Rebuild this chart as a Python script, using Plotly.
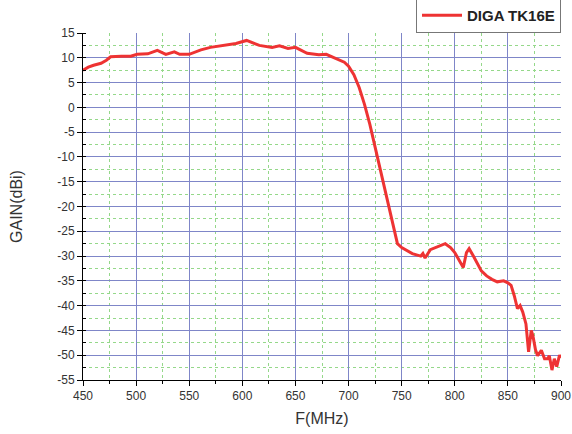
import plotly.graph_objects as go

freq_mhz = [450, 455, 460, 467, 472, 476, 486, 495, 501, 511, 520, 528, 536, 541, 550,
            561, 570, 583, 594, 604, 616, 628, 635, 643, 650, 661, 672, 679, 688, 696,
            700, 705, 710, 715, 720, 725, 730, 735, 740, 746, 750, 760, 768, 770, 772,
            777, 791, 796, 800, 805, 808, 811, 813.5, 817.5, 822, 825, 830, 835, 840,
            846, 850, 853, 856, 859, 861.5, 864, 867, 869.5, 872, 873.5, 876, 878,
            881.5, 884.5, 887.5, 889, 891.5, 893.7, 896, 898.6, 900]
gain_dbi = [7.5, 8.1, 8.5, 8.9, 9.5, 10.2, 10.3, 10.3, 10.7, 10.8, 11.5, 10.7, 11.2, 10.7, 10.7,
            11.6, 12.1, 12.5, 12.9, 13.5, 12.5, 12.1, 12.4, 11.9, 12.1, 10.9, 10.6, 10.7, 9.8, 9.1,
            8.3, 6.6, 4.0, 0.6, -3.4, -8.0, -12.5, -17.0, -21.5, -27.5, -28.3, -29.5, -30.0, -29.5, -30.4,
            -28.7, -27.5, -28.3, -29.3, -31.0, -32.3, -29.3, -28.5, -30.0, -31.7, -33.0, -34.0, -34.7, -35.2,
            -35.0, -35.4, -35.9, -38.0, -40.6, -40.0, -41.3, -43.7, -49.3, -45.0, -46.0, -48.9, -50.1,
            -49.0, -50.7, -50.7, -50.1, -53.0, -50.7, -52.3, -50.0, -50.5]

x_ticks = [450, 500, 550, 600, 650, 700, 750, 800, 850, 900]
y_ticks = [15, 10, 5, 0, -5, -10, -15, -20, -25, -30, -35, -40, -45, -50, -55]
y_tick_text = [str(v) for v in y_ticks]
series_name = "<b>DIGA TK16E</b>"

fig = go.Figure()
fig.add_trace(go.Scatter(x=freq_mhz, y=gain_dbi, mode="lines", name=series_name,
                         line=dict(color="#ee3333", width=3)))

font_family = "Liberation Sans, Arial, sans-serif"
major_grid = "#7f86c8"
minor_grid = "#95d88a"

fig.update_layout(
    width=572, height=434,
    margin=dict(l=83, r=11, t=33, b=54, autoexpand=False),
    paper_bgcolor="white", plot_bgcolor="white",
    font=dict(family=font_family, color="#333333", size=12),
    showlegend=True,
    legend=dict(x=1, y=1.0, xanchor="right", yanchor="bottom",
                bgcolor="white", bordercolor="#777777", borderwidth=1,
                font=dict(size=15, color="#222222",
                          family="Liberation Sans Narrow, Liberation Sans, Arial, sans-serif"),
                itemwidth=40, tracegroupgap=0),
)
fig.update_xaxes(
    range=[450, 900], tickvals=x_ticks,
    showline=True, linecolor="black", linewidth=1,
    ticks="outside", ticklen=5, tickcolor="black",
    showgrid=True, gridcolor=major_grid, gridwidth=1,
    minor=dict(dtick=25, showgrid=True, gridcolor=minor_grid, griddash="dot",
               ticks="outside", ticklen=3, tickcolor="black"),
    zeroline=False,
    title=dict(text="F(MHz)", font=dict(size=16, color="#333333"), standoff=10),
    tickfont=dict(size=12, color="#333333"),
)
fig.update_yaxes(
    range=[-55, 15], tickvals=y_ticks, ticktext=y_tick_text,
    showline=True, linecolor="black", linewidth=1,
    ticks="outside", ticklen=5, tickcolor="black",
    showgrid=True, gridcolor=major_grid, gridwidth=1,
    minor=dict(dtick=2.5, showgrid=True, gridcolor=minor_grid, griddash="dot",
               ticks="inside", ticklen=3, tickcolor="black"),
    zeroline=False,
    title=dict(text="GAIN(dBi)", font=dict(size=16, color="#333333"), standoff=30),
    tickfont=dict(size=12, color="#333333"),
)

fig.write_html("out.html",
               config={"displayModeBar": False},
               post_script="document.body.style.margin='0';document.body.style.overflow='hidden';")
